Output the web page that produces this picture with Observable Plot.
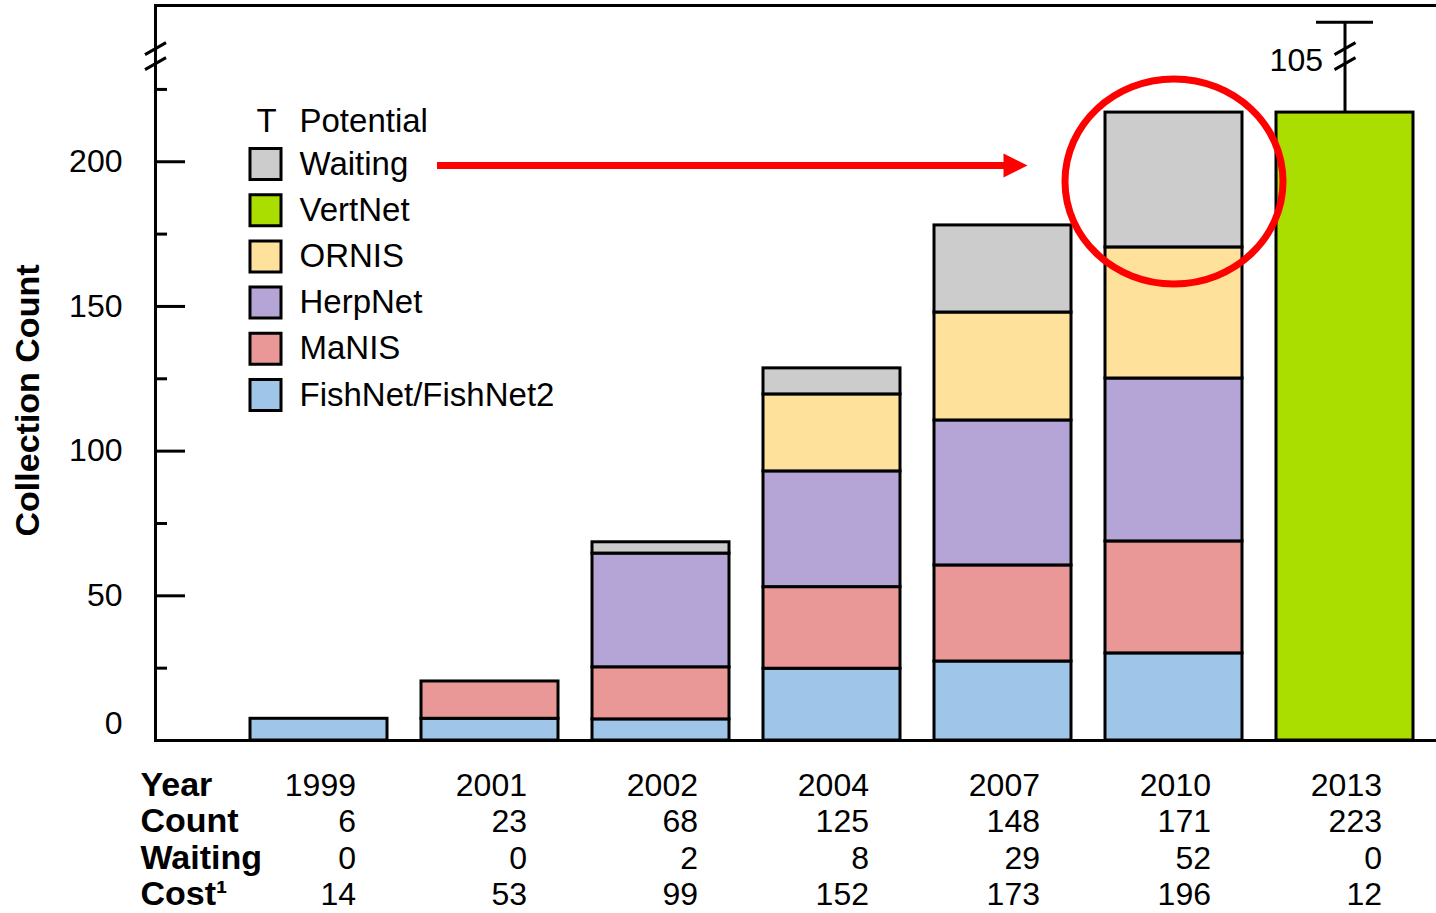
<!DOCTYPE html>
<html><head><meta charset="utf-8">
<script src="https://cdn.jsdelivr.net/npm/d3@7"></script>
<script src="https://cdn.jsdelivr.net/npm/@observablehq/plot@0.6"></script>
<style>
html,body{margin:0;padding:0;background:#fff;}
#chart{width:1436px;height:913px;overflow:hidden;}
</style></head><body><div id="chart"></div>
<script>
// ---- data ----
const years = ["1999","2001","2002","2004","2007","2010","2013"];
const seriesNames = ["FishNet/FishNet2","MaNIS","HerpNet","ORNIS","VertNet","Waiting"];
const legendOrder = ["Waiting","VertNet","ORNIS","HerpNet","MaNIS","FishNet/FishNet2"];
const seriesColors = ["#9fc5e8","#e99797","#b4a5d6","#fee29b","#aadd00","#cccccc"];
const fishNet = [7.5, 7.5, 7.3, 24.8, 27.3, 30.1, 0];
const maNIS   = [0, 12.9, 18.0, 28.2, 33.2, 38.7, 0];
const herpNet = [0, 0, 39.3, 40.0, 50.1, 56.3, 0];
const ornis   = [0, 0, 0, 26.6, 37.3, 45.3, 0];
const vertNet = [0, 0, 0, 0, 0, 0, 217.0];
const waiting = [0, 0, 3.9, 9.0, 30.1, 46.6, 0];
const potentialYear = "2013";
const potentialValue = 105;
const potentialCapDisplay = 248.2;   // top of the broken "potential" bar
const axisBreakAt = 236.5;           // where the axis break marks sit
const potentialLabelAt = 235;
const yMajorTicks = [50, 100, 150, 200];
const yZeroLabel = [0];
const yMinorTicks = [25, 75, 125, 175, 225];
const yMax = 254;
const tableRows = ["Year", "Count", "Waiting", "Cost\u00b9"];
const tableCount = [6, 23, 68, 125, 148, 171, 223];
const tableWaiting = [0, 0, 2, 8, 29, 52, 0];
const tableCost = [14, 53, 99, 152, 173, 196, 12];
const highlightYear = "2010";
const highlightCenter = 193.2;
const arrowLevel = 198.7;
const arrowTargetYear = "2007";
const yTitle = "Collection Count";
const yTitleAt = 117.5;

// ---- build tidy table ----
const seriesValues = [fishNet, maNIS, herpNet, ornis, vertNet, waiting];
const bars = [];
seriesNames.forEach((s, k) => years.forEach((y, i) => {
  if (seriesValues[k][i] > 0) bars.push({year: y, series: s, value: seriesValues[k][i]});
}));
const tableValues = [years, tableCount, tableWaiting, tableCost];

// ---- style constants ----
const W = 1436, H = 913, ML = 155, MR = 0, MT = 5, MB = 173;
const frameW = W - ML - MR;
const FS = 32, LFS = 33, BFS = 34;
const k = 0.5523;
const ellipseSymbol = {draw(ctx) {
  const rx = 109, ry = 102.5;
  ctx.moveTo(rx, 0);
  ctx.bezierCurveTo(rx, ry * k, rx * k, ry, 0, ry);
  ctx.bezierCurveTo(-rx * k, ry, -rx, ry * k, -rx, 0);
  ctx.bezierCurveTo(-rx, -ry * k, -rx * k, -ry, 0, -ry);
  ctx.bezierCurveTo(rx * k, -ry, rx, -ry * k, rx, 0);
  ctx.closePath();
}};
const breakSymbol = {draw(ctx) {
  for (const o of [-7.5, 7.5]) { ctx.moveTo(-10.5, o + 6); ctx.lineTo(10.5, o - 6); }
}};
const headSymbol = {draw(ctx) {
  ctx.moveTo(12, 0); ctx.lineTo(-12, -12); ctx.lineTo(-12, 12); ctx.closePath();
}};

const marks = [];
// bars
marks.push(Plot.barY(bars, {x: "year", y: "value", fill: "series", order: seriesNames, stroke: "#000", strokeWidth: 3}));
// frame lines
marks.push(Plot.ruleY([0], {stroke: "#000", strokeWidth: 3}));
marks.push(Plot.ruleY([yMax], {stroke: "#000", strokeWidth: 3}));
marks.push(Plot.frame({anchor: "left", stroke: "#000", strokeWidth: 3}));
// ticks
marks.push(Plot.ruleY(yMajorTicks, {insetRight: frameW - 30, stroke: "#000", strokeWidth: 3}));
marks.push(Plot.ruleY(yMinorTicks, {insetRight: frameW - 12, stroke: "#000", strokeWidth: 3}));
marks.push(Plot.axisY(yMajorTicks, {tickSize: 0, tickPadding: 33, fontSize: FS, label: null}));
marks.push(Plot.text(yZeroLabel, {y: d => d, frameAnchor: "left", dx: -33, dy: -17, textAnchor: "end", fontSize: FS, text: d => String(d)}));
marks.push(Plot.text([yTitle], {frameAnchor: "left", y: () => yTitleAt, dx: -127, rotate: -90, textAnchor: "middle", lineAnchor: "middle", fontWeight: "bold", fontSize: BFS}));
// axis break
marks.push(Plot.dot([axisBreakAt], {y: d => d, frameAnchor: "left", symbol: breakSymbol, r: 5, fill: "none", stroke: "#000", strokeWidth: 3}));
// potential error bar
marks.push(Plot.ruleX([potentialYear], {x: d => d, y1: () => vertNet[6], y2: () => potentialCapDisplay, stroke: "#000", strokeWidth: 3}));
marks.push(Plot.tickY([potentialYear], {x: d => d, y: () => potentialCapDisplay, insetLeft: 40, insetRight: 40, stroke: "#000", strokeWidth: 3}));
marks.push(Plot.dot([potentialYear], {x: d => d, y: () => axisBreakAt, symbol: breakSymbol, r: 5, fill: "none", stroke: "#000", strokeWidth: 3}));
marks.push(Plot.text([potentialValue], {x: () => potentialYear, y: () => potentialLabelAt, dx: -22, textAnchor: "end", fontSize: FS, text: d => String(d)}));
// highlight
marks.push(Plot.dot([highlightYear], {x: d => d, y: () => highlightCenter, symbol: ellipseSymbol, r: 5, fill: "none", stroke: "#ff0000", strokeWidth: 7}));
marks.push(Plot.ruleY([arrowLevel], {insetLeft: 282, insetRight: W - MR - 1006, stroke: "#ff0000", strokeWidth: 7}));
marks.push(Plot.dot([arrowTargetYear], {x: d => d, y: () => arrowLevel, dx: 12.5, symbol: headSymbol, r: 5, fill: "#ff0000", stroke: "none"}));
// legend
marks.push(Plot.text(["T"], {frameAnchor: "top-left", dx: 111, dy: 116, textAnchor: "middle", lineAnchor: "middle", fontSize: LFS}));
marks.push(Plot.text(["Potential"], {frameAnchor: "top-left", dx: 144, dy: 116, textAnchor: "start", lineAnchor: "middle", fontSize: LFS}));
legendOrder.forEach((s, i) => {
  marks.push(Plot.dot([s], {frameAnchor: "top-left", dx: 110, dy: 158.5 + i * 46.2, symbol: "square", r: 17.5, fill: d => d, stroke: "#000", strokeWidth: 3}));
  marks.push(Plot.text([s], {frameAnchor: "top-left", dx: 144, dy: 158.5 + i * 46.2, textAnchor: "start", lineAnchor: "middle", fontSize: LFS}));
});
// table below
tableRows.forEach((r, j) => {
  const dy = 55 + j * 36.6;
  marks.push(Plot.text([r], {frameAnchor: "bottom-left", dx: -15, dy, textAnchor: "start", lineAnchor: "bottom", fontWeight: "bold", fontSize: BFS}));
  marks.push(Plot.text(years, {x: d => d, frameAnchor: "bottom", dx: 37, dy, textAnchor: "end", lineAnchor: "bottom", fontSize: FS, text: (d, i) => String(tableValues[j][i])}));
});

const chart = Plot.plot({
  width: W, height: H,
  marginLeft: ML, marginRight: MR, marginTop: MT, marginBottom: MB,
  style: {fontFamily: "'Liberation Sans', Arial, sans-serif", background: "#fff", overflow: "visible", color: "#000"},
  x: {domain: years, insetLeft: 78, insetRight: 6, paddingInner: 0.2, paddingOuter: 0.1, axis: null},
  y: {domain: [0, yMax], axis: null},
  color: {domain: seriesNames, range: seriesColors},
  marks
});
document.getElementById("chart").appendChild(chart);
</script>
</body></html>
